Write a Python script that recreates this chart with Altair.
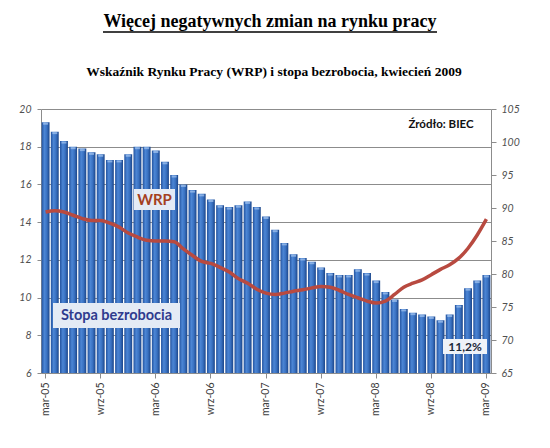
import altair as alt
import pandas as pd

# --- data ---
month_names = ["sty", "lut", "mar", "kwi", "maj", "cze", "lip", "sie", "wrz", "paź", "lis", "gru"]
start_year = 2005
start_month = 2  # index of "mar"
n_months = 49

unemployment = [19.3, 18.8, 18.3, 18.0, 17.9, 17.7, 17.6, 17.3, 17.3, 17.6, 18.0, 18.0,
                17.8, 17.2, 16.5, 16.0, 15.7, 15.5, 15.2, 14.9, 14.8, 14.9, 15.1, 14.8,
                14.3, 13.6, 12.9, 12.3, 12.1, 11.9, 11.6, 11.3, 11.2, 11.2, 11.5, 11.3,
                10.9, 10.3, 9.9, 9.4, 9.2, 9.1, 9.0, 8.8, 9.1, 9.6, 10.5, 10.9, 11.2]

wrp = [89.4, 89.6, 89.4, 88.9, 88.4, 88.1, 88.1, 87.7, 87.1, 86.2, 85.6, 85.1,
       85.0, 85.0, 84.9, 83.8, 82.8, 81.9, 81.6, 81.0, 80.3, 79.3, 78.6, 77.7,
       77.1, 76.9, 77.1, 77.4, 77.6, 77.9, 78.1, 78.0, 77.5, 76.9, 76.4, 75.9,
       75.6, 75.9, 76.9, 78.0, 78.6, 79.1, 79.9, 80.7, 81.4, 82.4, 83.9, 85.9, 88.3]

left_ticks = [6, 8, 10, 12, 14, 16, 18, 20]
right_ticks = [65, 70, 75, 80, 85, 90, 95, 100, 105]

labels = []
for k in range(n_months):
    m = start_month + k
    labels.append(f"{month_names[m % 12]}-{(start_year + m // 12) % 100:02d}")
shown_labels = labels[::6]

df = pd.DataFrame({"miesiac": labels, "stopa": unemployment, "wrp": wrp})

W, H = 450, 264
axis_font = "Lato"
grey = "#8c8c8c"

x_enc = alt.X(
    "miesiac:N", sort=labels, title=None,
    scale=alt.Scale(paddingInner=0.14, paddingOuter=0.07),
    axis=alt.Axis(values=shown_labels, labelAngle=270, labelFont=axis_font, labelFontSize=10.5,
                  labelColor="#404040", tickSize=5, tickColor=grey, domainColor=grey,
                  labelPadding=4, grid=False),
)

bar_gradient = alt.Gradient(
    gradient="linear",
    stops=[alt.GradientStop(color="#23539f", offset=0),
           alt.GradientStop(color="#4c86d5", offset=0.35),
           alt.GradientStop(color="#3a72c2", offset=0.65),
           alt.GradientStop(color="#1b4589", offset=1)],
    x1=0, x2=1, y1=0, y2=0,
)

left_axis = alt.Axis(values=left_ticks, grid=True, gridColor=grey, gridWidth=1,
                     labelFont=axis_font, labelFontStyle="italic", labelFontSize=10.5,
                     labelColor="#505050", tickSize=4, tickColor=grey, domainColor=grey,
                     labelPadding=6)
left_scale = alt.Scale(domain=[6, 20], nice=False, zero=False)

bars = alt.Chart(df).mark_bar(color=bar_gradient, clip=True).encode(
    x=x_enc, y=alt.Y("stopa:Q", title=None, scale=left_scale, axis=left_axis))
caps = alt.Chart(df).mark_tick(color="#a6c6f0", thickness=2, size=5, yOffset=1.5).encode(
    x=x_enc, y=alt.Y("stopa:Q", title=None, scale=left_scale, axis=left_axis))

left = alt.layer(bars, caps)

line = alt.Chart(df).mark_line(color="#b84a40", strokeWidth=3.5, interpolate="monotone").encode(
    x=x_enc,
    y=alt.Y("wrp:Q", title=None,
            scale=alt.Scale(domain=[65, 105], nice=False, zero=False),
            axis=alt.Axis(orient="right", values=right_ticks, grid=False,
                          labelFont=axis_font, labelFontStyle="italic", labelFontSize=10.5,
                          labelColor="#505050", tickSize=5, tickColor=grey, domainColor=grey,
                          labelPadding=5)),
)

one = pd.DataFrame({"a": [0]})


def box(x1, x2, y1, y2, fill):
    return alt.Chart(one).mark_rect(fill=fill).encode(
        x=alt.value(x1), x2=alt.value(x2), y=alt.value(y1), y2=alt.value(y2))


def label(text, x, y, color, size, font="Lato", weight="bold", align="center"):
    return alt.Chart(pd.DataFrame({"t": [text]})).mark_text(
        font=font, fontSize=size, fontWeight=weight, color=color, align=align, baseline="middle"
    ).encode(text="t:N", x=alt.value(x), y=alt.value(y))


annotations = [
    box(93, 134, 80, 101, "#e4ebf5"),
    label("WRP", 113.5, 91, "#a5401f", 15),
    box(12, 139, 194, 219, "#e4ebf5"),
    label("Stopa bezrobocia", 75.5, 207, "#2f3b8e", 14.5),
    box(402, 446, 230, 245, "#eef2f8"),
    label("11,2%", 424, 238, "#1c2838", 12),
    label("Źródło: BIEC", 400, 16, "#111111", 11.5),
    label("Więcej negatywnych zmian na rynku pracy", 229, -87, "#000000", 18,
          font="Liberation Serif"),
    alt.Chart(one).mark_rule(color="#000000", strokeWidth=1.5).encode(
        x=alt.value(62), x2=alt.value(396), y=alt.value(-77)),
    label("Wskaźnik Rynku Pracy (WRP) i stopa bezrobocia, kwiecień 2009", 233, -37,
          "#000000", 13.5, font="Liberation Serif"),
]

chart = alt.layer(left, line).resolve_scale(y="independent")
chart = alt.layer(chart, *annotations).properties(
    width=W, height=H,
    autosize=alt.AutoSizeParams(type="none"),
    padding={"left": 33, "top": 101, "right": 45, "bottom": 60},
    background="white",
).configure_view(strokeWidth=0)

chart.save("out.html", embed_options={"renderer": "svg", "actions": False})
